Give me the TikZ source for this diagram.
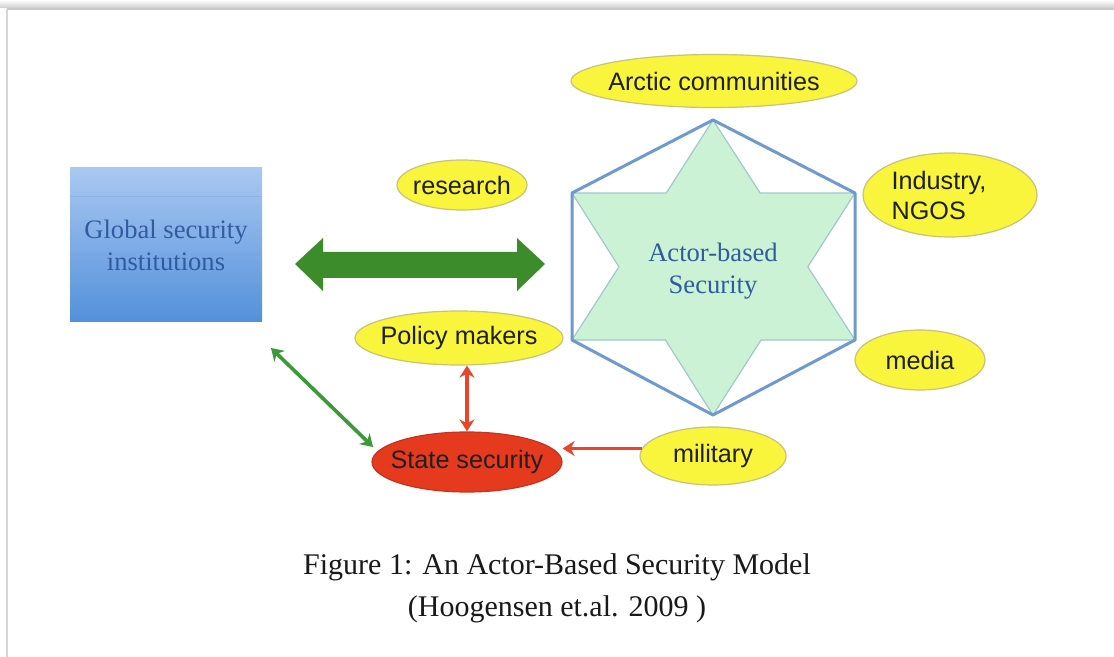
\documentclass[tikz,border=0pt]{standalone}
\usepackage{fontspec}
\setmainfont{Liberation Serif}
\newfontfamily\actorsans{Liberation Sans}
\usetikzlibrary{shapes.geometric,arrows.meta,calc}

\definecolor{boxtop}{HTML}{A9C8F2}
\definecolor{boxbot}{HTML}{5390DA}
\definecolor{boxtext}{HTML}{2E5C9E}
\definecolor{arrowgreen}{HTML}{3C8C2C}
\definecolor{linkgreen}{HTML}{3A9A38}
\definecolor{starfill}{HTML}{CCF2D6}
\definecolor{starline}{HTML}{A2C8CC}
\definecolor{hexline}{HTML}{6E9AD0}
\definecolor{actoryellow}{HTML}{F9F43C}
\definecolor{actorrim}{HTML}{C9C27A}
\definecolor{statered}{HTML}{E63A1E}
\definecolor{staterim}{HTML}{C23420}
\definecolor{linkred}{HTML}{E8462A}

\tikzset{
  actor/.style={ellipse, fill=actoryellow, draw=actorrim, line width=0.6pt,
    inner sep=0pt},
  actorlabel/.style={inner sep=0pt, align=left, text=black!88,
    font=\actorsans\fontsize{12.6}{15}\selectfont},
  gbox/.style={rectangle, top color=boxtop, bottom color=boxbot, inner sep=0pt,
    minimum width=96pt, minimum height=77pt, align=center, text=boxtext,
    font=\fontsize{13.3}{16}\selectfont},
  centertext/.style={align=center, text=boxtext, inner sep=0pt,
    font=\fontsize{13.3}{16}\selectfont},
  linktip/.tip={Stealth[length=6pt,width=7.5pt]},
  thinlink/.style={line width=1.8pt, linktip-linktip},
  onelink/.style={line width=1.8pt, -linktip},
  caption/.style={inner sep=0pt, font=\fontsize{15}{18}\selectfont, text=black!90}
}

\begin{document}
\begin{tikzpicture}[x=0.5pt,y=-0.5pt]
\useasboundingbox (0,0) rectangle (1114,657);
\fill[white] (0,0) rectangle (1114,657);

% page edge with a soft shadow along the top
\shade[top color=white, bottom color=black!20] (0,0) rectangle (1114,8);
\draw[black!22, line width=0.8pt] (7,9) -- (1114,9);
\draw[black!16, line width=0.8pt] (7,9) -- (7,657);

% global institutions
\node[gbox] (gsi) at (166,245) {Global security\\institutions};
\draw[boxbot!70!black, opacity=0.12, line width=0.5pt]
  ($(gsi.north west)+(0,29)$) -- ($(gsi.north east)+(0,29)$);

% broad two-way arrow
\fill[arrowgreen] (295,264) -- (323,238) -- (323,252) -- (517,252) -- (517,238)
  -- (545,264) -- (517,291) -- (517,278) -- (323,278) -- (323,291) -- cycle;

% hexagon corners
\coordinate (ht)  at (713,120);
\coordinate (hur) at (855,193);
\coordinate (hlr) at (855,340);
\coordinate (hb)  at (713,415);
\coordinate (hll) at (572,340);
\coordinate (hul) at (572,193);

% six-pointed star
\filldraw[fill=starfill, draw=starline, line width=0.6pt, line join=round]
  (ht) -- (intersection of ht--hlr and hul--hur) -- (hur)
  -- (intersection of ht--hlr and hb--hur) -- (hlr)
  -- (intersection of hb--hur and hll--hlr) -- (hb)
  -- (intersection of hb--hul and hll--hlr) -- (hll)
  -- (intersection of ht--hll and hb--hul) -- (hul)
  -- (intersection of ht--hll and hul--hur) -- cycle;

% hexagon
\draw[hexline, line width=1.5pt, line join=round]
  (ht) -- (hur) -- (hlr) -- (hb) -- (hll) -- (hul) -- cycle;

\node[centertext] (abs) at (713,271) {Actor-based\\Security};

% actors
\node[actor, minimum width=143pt, minimum height=26.5pt,
  label={[actorlabel]center:Arctic communities}] (arctic) at (714,81) {};
\node[actor, minimum width=65pt, minimum height=25pt,
  label={[actorlabel]center:research}] (research) at (462,185) {};
\node[actor, minimum width=87pt, minimum height=42pt,
  label={[actorlabel, xshift=-5.5pt]center:Industry,\\NGOS}] (industry) at (950,195) {};
\node[actor, minimum width=65pt, minimum height=30pt,
  label={[actorlabel]center:media}] (media) at (920,360) {};
\node[actor, minimum width=104pt, minimum height=27pt,
  label={[actorlabel]center:Policy makers}] (policy) at (459,338) {};
\node[actor, minimum width=73pt, minimum height=29pt,
  label={[actorlabel]center:military}] (military) at (713,456) {};
\node[actor, fill=statered, draw=staterim, minimum width=95pt, minimum height=30pt,
  label={[actorlabel]center:State security}] (state) at (467,462) {};

% links
\coordinate (gsilink) at (271,348);
\coordinate (statelink) at (373,447);
\draw[thinlink, linkgreen] (gsilink) -- (statelink);
\draw[thinlink, linkred] (state.north) -- (state.north |- policy.south);
\draw[onelink, linkred] (military.174) -- (state.east |- military.174);

% caption
\node[caption] (cap1) at (557,567) {Figure 1: An Actor-Based Security Model};
\node[caption] (cap2) at (557,609) {(Hoogensen et.al. 2009 )};
\end{tikzpicture}
\end{document}
